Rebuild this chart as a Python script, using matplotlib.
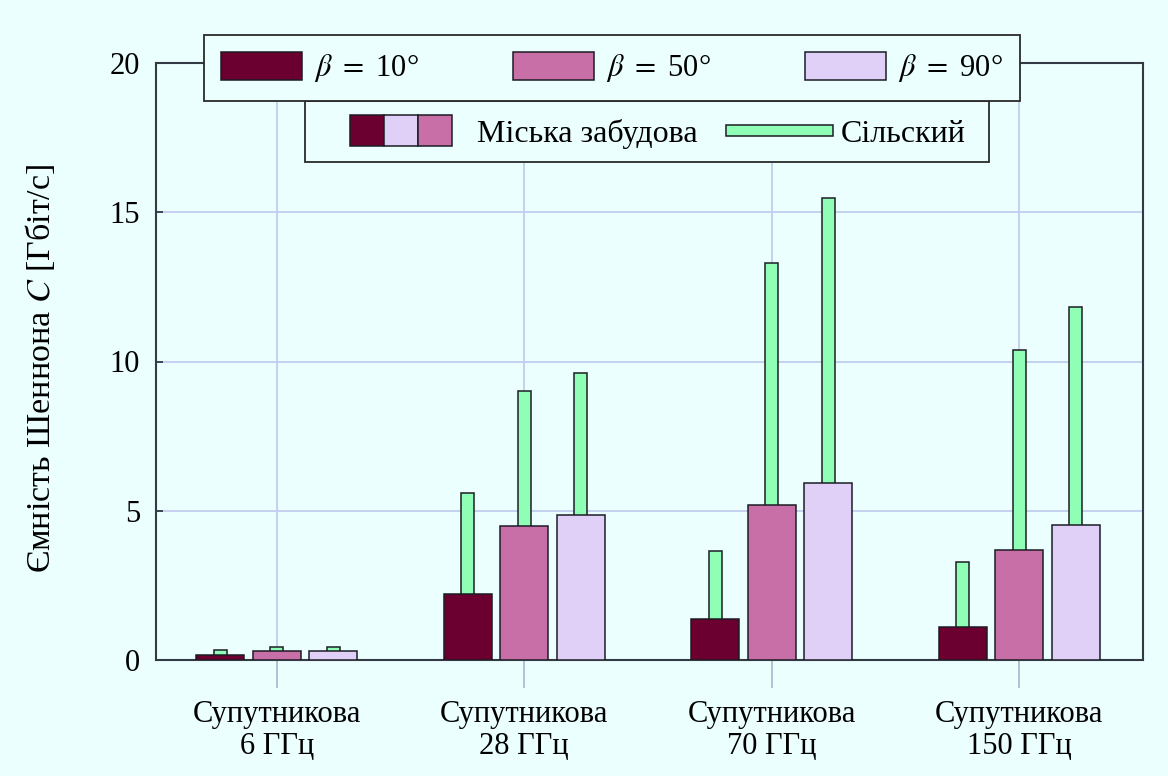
import numpy as np
import matplotlib
matplotlib.use("Agg")
import matplotlib.pyplot as plt
from matplotlib.patches import Rectangle
from matplotlib.legend_handler import HandlerTuple, HandlerPatch

plt.rcParams['font.family'] = ['Liberation Serif', 'DejaVu Serif']
plt.rcParams['mathtext.fontset'] = 'stix'

# data
categories = ['Супутникова\n6 ГГц', 'Супутникова\n28 ГГц',
              'Супутникова\n70 ГГц', 'Супутникова\n150 ГГц']
angles = ['10', '50', '90']
urban = [
    [0.18, 2.20, 1.37, 1.10],   # beta = 10
    [0.29, 4.49, 5.19, 3.68],   # beta = 50
    [0.29, 4.87, 5.93, 4.52],   # beta = 90
]
rural = [
    [0.35, 5.60, 3.65, 3.28],
    [0.42, 9.01, 13.30, 10.37],
    [0.42, 9.61, 15.48, 11.81],
]
yticks = [0, 5, 10, 15, 20]

bg = '#ebffff'
colors = ['#6b0030', '#c96fa8', '#e0d0f8']
green = '#90ffb6'
edge = '#1c1c24'
gridc = '#c3cdef'
fs = 22

fig = plt.figure(figsize=(11.68, 7.76), dpi=100, facecolor=bg)
ax = fig.add_axes([155.5 / 1168, 1 - 660 / 776, (1143 - 155.5) / 1168, (660 - 63) / 776])
ax.set_facecolor(bg)

x = np.arange(len(categories))
off = 0.228
w = 0.194
gw = 0.053
for i in range(3):
    ax.bar(x + (i - 1) * off, rural[i], gw, color=green, edgecolor=edge,
           linewidth=1.1, zorder=2)
    ax.bar(x + (i - 1) * off, urban[i], w, color=colors[i], edgecolor=edge,
           linewidth=1.1, zorder=3)

ax.set_xlim(-0.49, 3.5)
ax.set_ylim(0, 20)
ax.set_yticks(yticks)
ax.set_xticks(x)
ax.set_xticklabels(categories, fontsize=fs, linespacing=1.12)
ax.tick_params(axis='y', direction='in', length=5, width=1.3, color='#333a44',
               labelsize=fs, pad=11)
ax.tick_params(axis='x', direction='out', length=20, width=1.3, color='#b0bad6',
               pad=9)
ax.grid(True, color=gridc, linewidth=1.3, zorder=0)
ax.set_axisbelow(True)
for s in ax.spines.values():
    s.set_color('#333a44')
    s.set_linewidth(1.5)
ax.set_ylabel('Ємність Шеннона $C$ [Гбіт/с]', fontsize=24.5)
ax.yaxis.set_label_coords(-0.1, 0.489)

# legend 1: elevation angles
h1 = [Rectangle((0, 0), 1, 1, facecolor=c, edgecolor=edge, linewidth=1.1) for c in colors]
lab1 = [r'$\beta$ $=$ ' + a + '°' for a in angles]
leg1 = fig.legend(h1, lab1, loc='lower left', mode='expand', ncol=3,
                  bbox_to_anchor=(204 / 1168, 1 - 101 / 776, (1020 - 204) / 1168, 68 / 776),
                  bbox_transform=fig.transFigure, fontsize=fs, handlelength=2.65,
                  handleheight=1.05, handletextpad=0.4, borderpad=0.55,
                  borderaxespad=0, fancybox=False, framealpha=1, edgecolor='#2a2a2a',
                  facecolor=bg)
leg1.get_frame().set_linewidth(1.3)
leg1.set_zorder(10)


# legend 2: environment
def thin_patch(legend, orig_handle, xdescent, ydescent, width, height, fontsize):
    return Rectangle((-xdescent + width * 0.12, -ydescent + height * 0.32),
                     width * 1.05, height * 0.36)


urb = tuple(Rectangle((0, 0), 1, 1, facecolor=c, edgecolor=edge, linewidth=1.1)
            for c in [colors[0], colors[2], colors[1]])
rur = Rectangle((0, 0), 1, 1, facecolor=green, edgecolor=edge, linewidth=1.1)
leg2 = fig.legend([urb, rur], ['Міська забудова', 'Сільский'], loc='center left', ncol=2,
                  bbox_to_anchor=(337 / 1168, 1 - 132 / 776),
                  bbox_transform=fig.transFigure, fontsize=23, handlelength=3.2,
                  handleheight=1.1, handletextpad=0.78, columnspacing=0.5,
                  borderaxespad=0, frameon=False,
                  handler_map={urb: HandlerTuple(ndivide=None, pad=0),
                               rur: HandlerPatch(patch_func=thin_patch)})
leg2.set_zorder(9)
fig.add_artist(Rectangle((305 / 1168, 1 - 162 / 776), (989 - 305) / 1168, 61 / 776,
                         transform=fig.transFigure, facecolor=bg, edgecolor='#2a2a2a',
                         linewidth=1.3, zorder=8))

fig.savefig('out.png', dpi=100, facecolor=bg)
